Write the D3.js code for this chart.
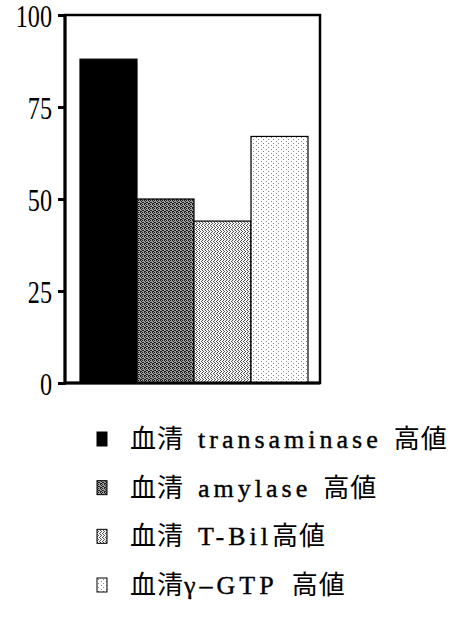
<!DOCTYPE html>
<html><head><meta charset="utf-8">
<script src="https://cdn.jsdelivr.net/npm/d3@7/dist/d3.min.js"></script>
<style>body{margin:0;background:#fff}svg{display:block}</style>
</head><body><svg id="c" width="468" height="626"></svg>
<script>
const categories = ["transaminase", "amylase", "T-Bil", "γ-GTP"];
const values = [88, 50, 44, 67];
const yTicks = [0, 25, 50, 75, 100];
// legend text pieces: [script, text]
const legendLabels = [
  [["cjk","血清"],["lat","transaminase"],["cjk","高値"]],
  [["cjk","血清"],["lat","amylase"],["cjk","高値"]],
  [["cjk","血清"],["lat","T-Bil"],["cjk","高値"]],
  [["cjk","血清"],["lat","γ–GTP"],["cjk","高値"]]
];
// horizontal gaps (layout) before each piece, per row
const legendGaps = [[0,14,12],[0,14,12],[0,14,0],[0,0,14]];
const fills = ["url(#p0)","url(#p1)","url(#p2)","url(#p3)"];

const svg = d3.select("#c");
const defs = svg.append("defs");
function pat(id, w, h, bg, pts, col){
  const p = defs.append("pattern").attr("id",id).attr("patternUnits","userSpaceOnUse").attr("width",w).attr("height",h);
  p.append("rect").attr("width",w).attr("height",h).attr("fill",bg);
  pts.forEach(([px,py,ww,hh])=>p.append("rect").attr("x",px).attr("y",py).attr("width",ww||1).attr("height",hh||1).attr("fill",col));
}
pat("p0",4,4,"#000",[], "#000");
pat("p1",4,4,"#9a9a9a",[[0,0],[2,0],[1,1],[3,2],[0,3],[2,2],[1,3]],"#222");
pat("p2",3,4,"#f4f4f4",[[1,0,1,1],[1,2,1,1],[0,1],[2,3]],"#555");
pat("p3",5,4,"#fff",[[1,1],[3,3]],"#888");

const mLeft = 65, mRight = 320, mTop = 15, mBottom = 383;
const y = d3.scaleLinear().domain([0,100]).range([mBottom, mTop]);
const x = d3.scaleBand().domain(categories).range([80, 308]).padding(0);

svg.append("rect").attr("x",mLeft).attr("y",mTop).attr("width",mRight-mLeft).attr("height",mBottom-mTop)
  .attr("fill","none").attr("stroke","#000").attr("stroke-width",2.5);

svg.selectAll("rect.bar").data(values).enter().append("rect").attr("class","bar")
  .attr("x",(d,i)=>x(categories[i])).attr("width",x.bandwidth())
  .attr("y",d=>y(d)).attr("height",d=>mBottom-y(d))
  .attr("fill",(d,i)=>fills[i]).attr("stroke","#000").attr("stroke-width",1.2);

const ax = svg.append("g").attr("transform",`translate(${mLeft},0)`)
  .call(d3.axisLeft(y).tickValues(yTicks).tickSize(7).tickPadding(0).tickFormat(d3.format("d")));
ax.select(".domain").remove();
ax.selectAll(".tick line").attr("stroke","#000").attr("stroke-width",3);
ax.selectAll(".tick text").attr("font-family","Liberation Serif").attr("font-size",31)
  .attr("fill","#000").attr("x",null).attr("dy","0.36em")
  .attr("transform","translate(-13,0) scale(0.78,1)").attr("text-anchor","end");
svg.append("line").attr("x1",mLeft).attr("x2",mLeft).attr("y1",mTop-1).attr("y2",mBottom+1.5)
  .attr("stroke","#000").attr("stroke-width",3);
svg.append("line").attr("x1",mLeft).attr("x2",mRight).attr("y1",mBottom).attr("y2",mBottom)
  .attr("stroke","#000").attr("stroke-width",3);

const lg = svg.append("g");
const rowY = d3.scaleLinear().domain([0,3]).range([439, 585]);
legendLabels.forEach((segs,i)=>{
  const cy = rowY(i);
  lg.append("rect").attr("x",97).attr("y",cy-7).attr("width",10).attr("height",14)
    .attr("fill",fills[i]).attr("stroke","#000").attr("stroke-width",1);
  const t = lg.append("text").attr("x",130).attr("y",cy+9).attr("fill","#000");
  segs.forEach(([k,s],j)=>{
    const ts = t.append("tspan").attr("dx", legendGaps[i][j]).text(s);
    if (k==="cjk") ts.attr("font-family","Noto Sans CJK JP").attr("font-size",26).attr("letter-spacing",1);
    else ts.attr("font-family","Liberation Serif").attr("font-size",26).attr("letter-spacing",4)
           .attr("stroke","#000").attr("stroke-width",0.4);
  });
});
</script></body></html>
